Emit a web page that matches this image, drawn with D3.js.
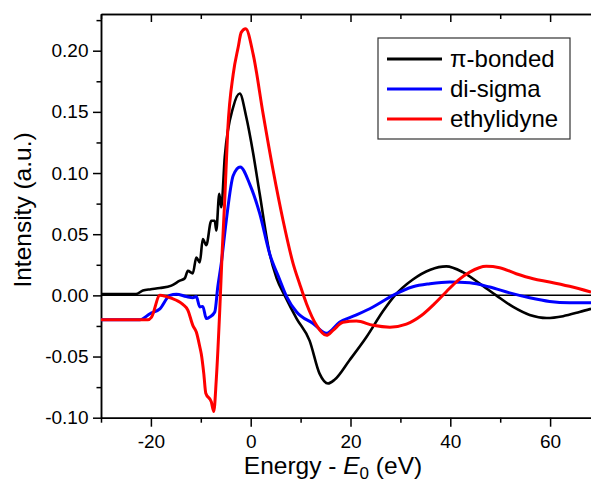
<!DOCTYPE html>
<html>
<head>
<meta charset="utf-8">
<script src="https://cdn.jsdelivr.net/npm/d3@7"></script>
<style>
  body { margin: 0; background: #fff; }
  svg { display: block; font-family: "Liberation Sans", Arial, sans-serif; }
  .axis path, .axis line { stroke: #000; stroke-width: 1.5; }
  .axis text { font-size: 19px; fill: #000; }
</style>
</head>
<body>
<script>
// data
var seriesNames = ["\u03c0-bonded", "di-sigma", "ethylidyne"];
var seriesColors = ["#000000", "#0000ff", "#ff0000"];

var piX = [-30, -23, -21.6, -20, -18.2, -15.9, -14.2, -13.2, -12.6, -11.6, -10.9, -10.2, -9.6, -8.9, -7.9, -7.2, -6.9, -6.3, -5.9, -5.2, -3.5, -2.2, -0.9, 0.5, 1.8, 3.8, 5.2, 6.8, 9.2, 11.8, 13.8, 15.5, 16.8, 19.8, 23.2, 26.5, 28.9, 32.5, 36, 39.2, 42.5, 45.9, 49.2, 52.6, 55.9, 59.3, 62.6, 65.9, 68.2];
var piY = [0.001, 0.001, 0.004, 0.005, 0.006, 0.008, 0.012, 0.014, 0.020, 0.018, 0.031, 0.027, 0.046, 0.041, 0.061, 0.061, 0.053, 0.083, 0.072, 0.113, 0.154, 0.165, 0.146, 0.116, 0.083, 0.034, 0.014, 0.0, -0.019, -0.037, -0.064, -0.072, -0.069, -0.053, -0.034, -0.013, 0.0, 0.013, 0.021, 0.0237, 0.019, 0.0096, 0.0, -0.0095, -0.016, -0.0185, -0.017, -0.0136, -0.011];

var diX = [-30, -22.2, -20.2, -18.2, -16.2, -14.9, -12.9, -11.6, -10.9, -10.2, -9.6, -8.9, -8.2, -7.2, -6.6, -5.9, -4.9, -3.5, -2.1, -0.2, 1.8, 3.8, 5.8, 7.2, 9.2, 12.5, 15.2, 17.8, 21.2, 24.5, 28.5, 32.5, 35.9, 39.9, 43.9, 47.9, 51.9, 55.9, 59.9, 63.9, 68.2];
var diY = [-0.02, -0.02, -0.015, -0.011, 0.0, 0.001, -0.001, -0.002, -0.001, -0.0095, -0.009, -0.019, -0.0177, -0.0136, 0.0068, 0.026, 0.061, 0.098, 0.105, 0.091, 0.067, 0.034, 0.013, -0.001, -0.0136, -0.023, -0.031, -0.022, -0.016, -0.0095, 0.0, 0.007, 0.0095, 0.011, 0.0103, 0.0068, 0.002, -0.002, -0.005, -0.006, -0.006];

var ethX = [-30, -20.6, -19.9, -18.2, -16.9, -14.9, -13.6, -12.6, -11.6, -10.9, -10.2, -9.9, -9.4, -9.0, -7.9, -7.4, -6.9, -6.2, -5.7, -5.2, -4.6, -3.5, -2.5, -1.9, -1.0, 0.5, 2.5, 4.5, 6.5, 8.5, 9.8, 11.2, 13.2, 15.2, 16.5, 18.5, 21.2, 24.5, 27.9, 31.2, 34.2, 36.8, 39.2, 41.6, 43.9, 47.2, 49.9, 53.2, 56.6, 59.9, 63.9, 68.2];
var ethY = [-0.02, -0.02, -0.018, 0.0, -0.001, -0.004, -0.0074, -0.012, -0.0245, -0.030, -0.042, -0.048, -0.064, -0.080, -0.087, -0.095, -0.069, -0.012, 0.037, 0.078, 0.135, 0.181, 0.203, 0.215, 0.218, 0.197, 0.148, 0.102, 0.061, 0.026, 0.0095, -0.007, -0.0245, -0.0327, -0.0286, -0.022, -0.021, -0.0245, -0.026, -0.0235, -0.0165, -0.007, 0.003, 0.0125, 0.019, 0.0237, 0.0226, 0.0177, 0.0136, 0.011, 0.0074, 0.0027];

var xTicks = [-20, 0, 20, 40, 60];
var xMinorTicks = [-30, -10, 10, 30, 50];
var yTicks = [-0.10, -0.05, 0.00, 0.05, 0.10, 0.15, 0.20];
var yMinorTicks = [-0.075, -0.025, 0.025, 0.075, 0.125, 0.175, 0.225];

// Section 1: Setup
var width = 591;
var height = 483;
var plotLeft = 101, plotTop = 14, plotBottom = 417.7;

var svg = d3.select("body").append("svg")
  .attr("width", width)
  .attr("height", height);

var x = d3.scaleLinear().domain([-30, 70]).range([plotLeft, plotLeft + 499]);
var y = d3.scaleLinear().domain([-0.10, 0.23]).range([plotBottom, plotTop]);

// axes
svg.append("g").attr("class", "axis")
  .attr("transform", "translate(0," + plotBottom + ")")
  .call(d3.axisBottom(x).tickValues(xTicks).tickSize(9).tickSizeOuter(0)
    .tickPadding(7.5).tickFormat(function(d) { return String(d); }));
svg.append("g").attr("class", "axis")
  .attr("transform", "translate(0," + plotBottom + ")")
  .call(d3.axisBottom(x).tickValues(xMinorTicks).tickSize(5).tickSizeOuter(0).tickFormat(""));

svg.append("g").attr("class", "axis")
  .attr("transform", "translate(0," + plotTop + ")")
  .call(d3.axisTop(x).tickValues(xTicks).tickSize(-8).tickSizeOuter(0).tickFormat(""));
svg.append("g").attr("class", "axis")
  .attr("transform", "translate(0," + plotTop + ")")
  .call(d3.axisTop(x).tickValues(xMinorTicks).tickSize(-5).tickSizeOuter(0).tickFormat(""));

svg.append("g").attr("class", "axis")
  .attr("transform", "translate(" + plotLeft + ",0)")
  .call(d3.axisLeft(y).tickValues(yTicks).tickSize(8).tickSizeOuter(0)
    .tickPadding(4.5).tickFormat(function(d) { return d.toFixed(2); }));
svg.append("g").attr("class", "axis")
  .attr("transform", "translate(" + plotLeft + ",0)")
  .call(d3.axisLeft(y).tickValues(yMinorTicks).tickSize(4.5).tickSizeOuter(0).tickFormat(""));

// zero line
svg.append("line")
  .attr("x1", x(-30)).attr("x2", x(70))
  .attr("y1", y(0)).attr("y2", y(0))
  .attr("stroke", "#000").attr("stroke-width", 1.5);

// curves
var series = [
  { xs: piX, ys: piY },
  { xs: diX, ys: diY },
  { xs: ethX, ys: ethY }
];

var line = d3.line()
  .x(function(d) { return x(d[0]); })
  .y(function(d) { return y(d[1]); })
  .curve(d3.curveMonotoneX);

series.forEach(function(s, i) {
  var pts = s.xs.map(function(v, j) { return [v, s.ys[j]]; });
  svg.append("path")
    .datum(pts)
    .attr("fill", "none")
    .attr("stroke", seriesColors[i])
    .attr("stroke-width", i === 0 ? 2.6 : 3)
    .attr("stroke-linejoin", "round")
    .attr("d", line);
});

// axis labels
svg.append("text")
  .attr("transform", "translate(31,210)rotate(-90)")
  .attr("text-anchor", "middle")
  .style("font-size", "24.5px")
  .text("Intensity (a.u.)");

var xl = svg.append("text")
  .attr("x", 333).attr("y", 474)
  .attr("text-anchor", "middle")
  .style("font-size", "24.5px");
xl.append("tspan").text("Energy - ");
xl.append("tspan").style("font-style", "italic").text("E");
xl.append("tspan").attr("dy", 5).style("font-size", "17px").text("0");
xl.append("tspan").attr("dy", -5).text(" (eV)");

// legend
var legend = svg.append("g");
legend.append("rect")
  .attr("x", 378).attr("y", 38).attr("width", 192).attr("height", 101)
  .attr("fill", "#fff").attr("stroke", "#333").attr("stroke-width", 1.2);

seriesNames.forEach(function(name, i) {
  var ly = 59 + i * 30;
  legend.append("line")
    .attr("x1", 387).attr("x2", 442)
    .attr("y1", ly).attr("y2", ly)
    .attr("stroke", seriesColors[i]).attr("stroke-width", 3);
  legend.append("text")
    .attr("x", 450).attr("y", ly)
    .attr("dy", "0.35em")
    .style("font-size", "24px")
    .text(name);
});
</script>
</body>
</html>
